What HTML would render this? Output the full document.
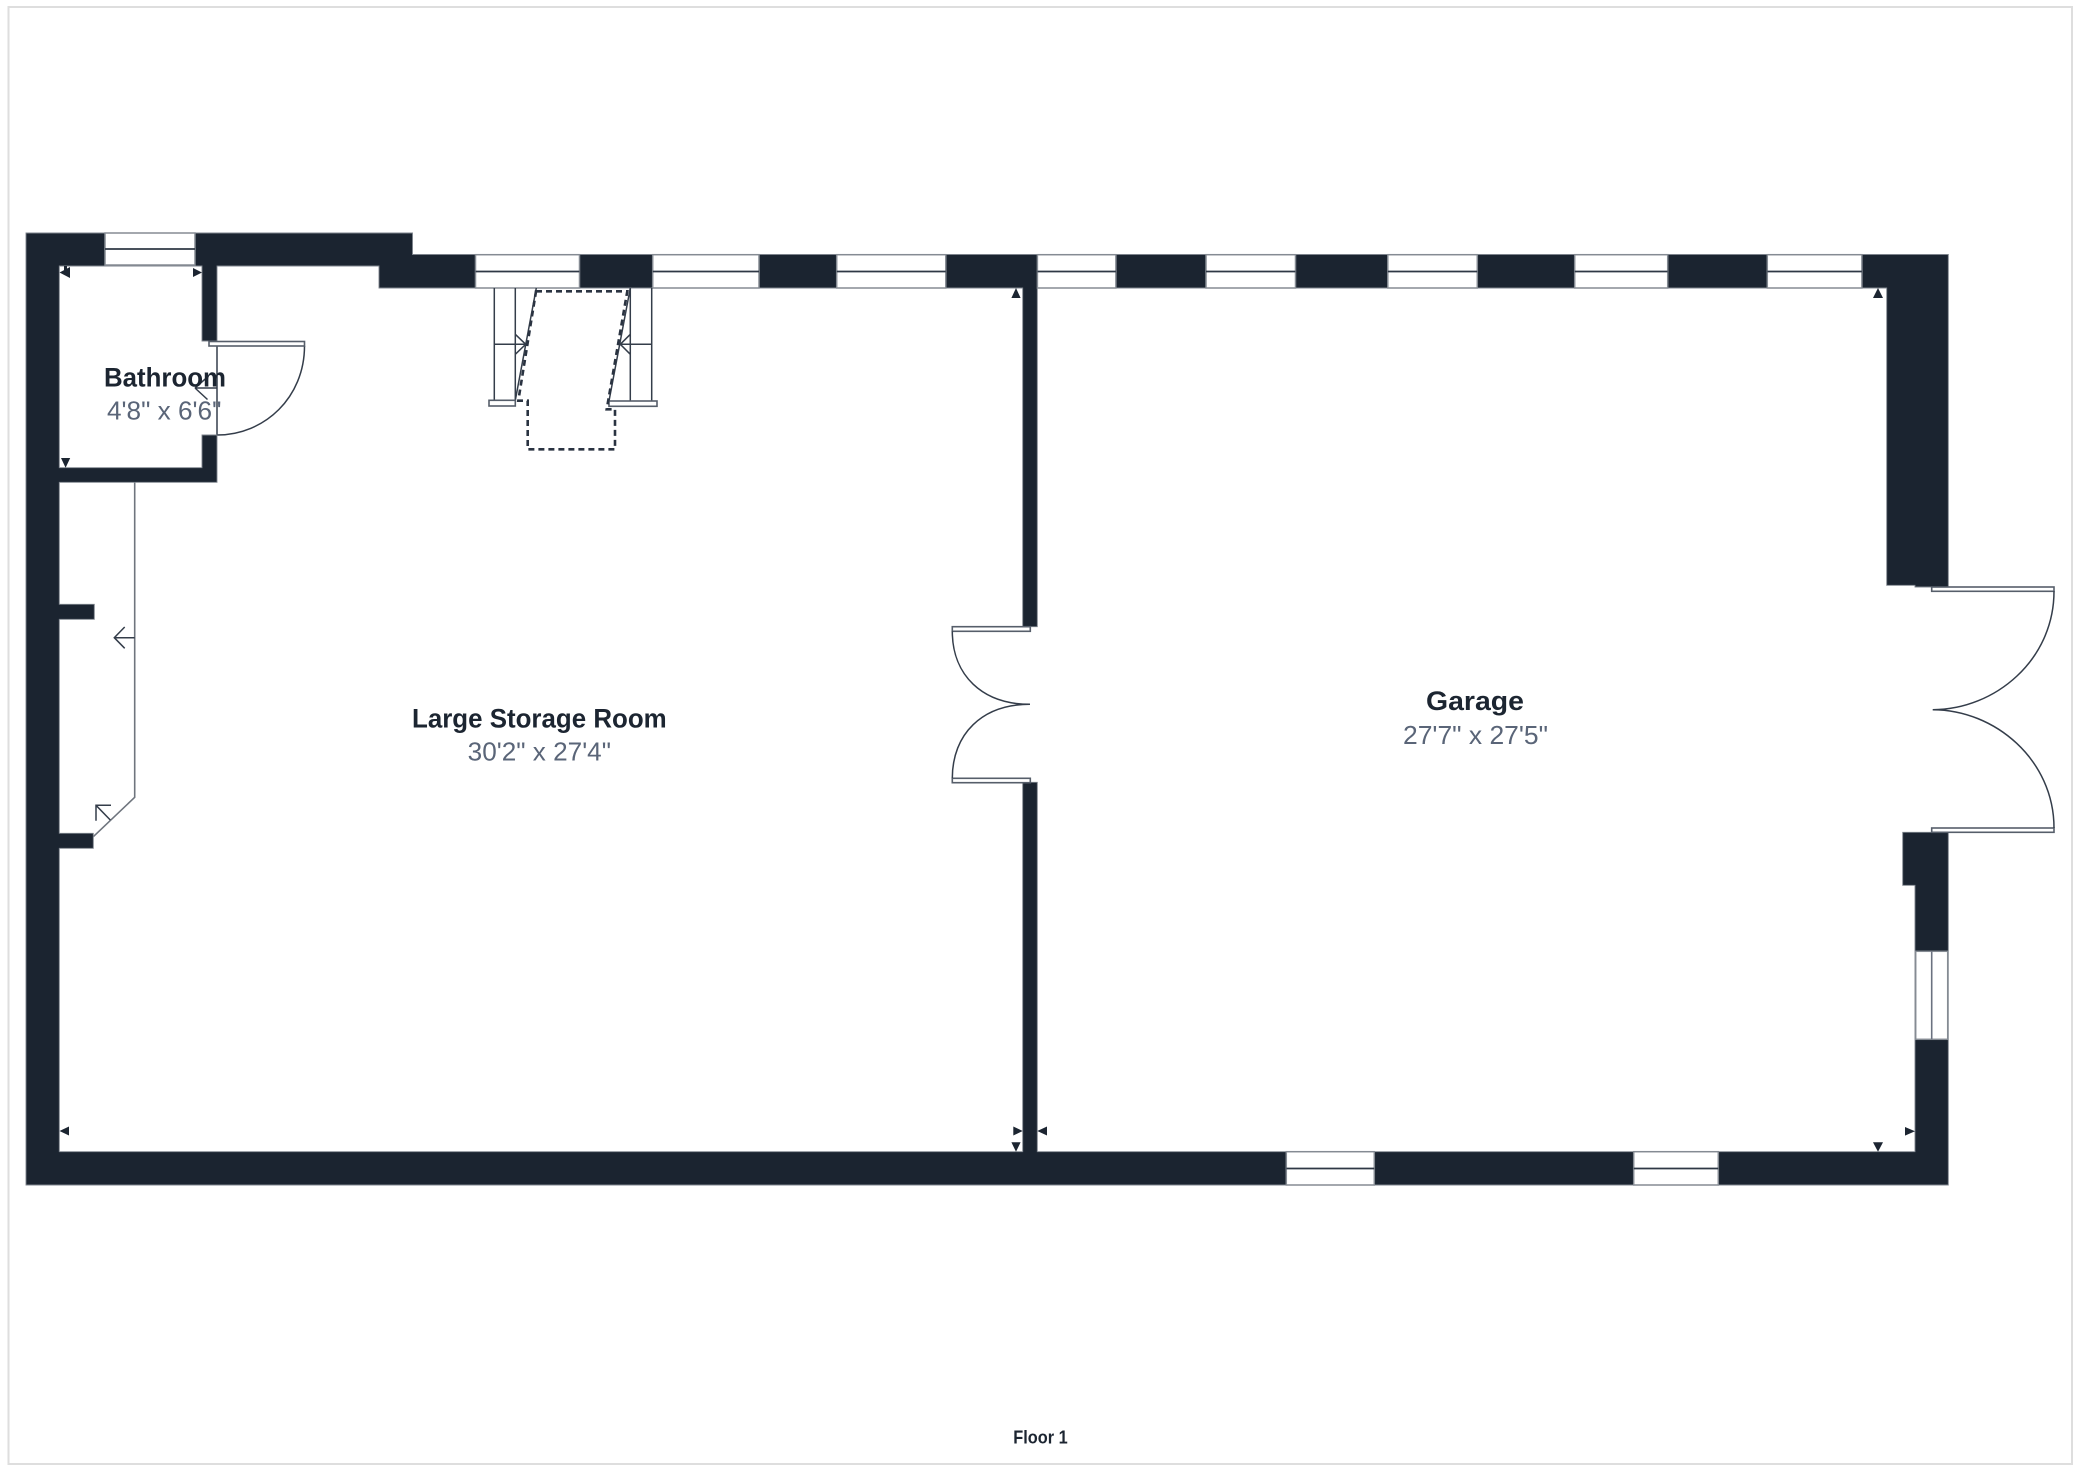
<!DOCTYPE html>
<html>
<head>
<meta charset="utf-8">
<title>Floor plan</title>
<style>
html,body{margin:0;padding:0;background:#fff;width:2080px;height:1471px;overflow:hidden}
svg{display:block}
text{font-family:"Liberation Sans",sans-serif}
.t{font-weight:bold;fill:#1c2531;font-size:27px}
.s{fill:#5a6578;font-size:26px}
.win{fill:#fff;stroke:#858b93;stroke-width:1.5}
.mid{stroke:#2f3845;stroke-width:1.7;fill:none}
.ln{stroke:#343d4a;stroke-width:1.5;fill:none}
.slab{fill:#fff;stroke:#565e6a;stroke-width:1.6}
.ar{fill:#1c2531;stroke:none}
</style>
</head>
<body>
<svg width="2080" height="1471" viewBox="0 0 2080 1471" xmlns="http://www.w3.org/2000/svg">
<rect x="0" y="0" width="2080" height="1471" fill="#fff"/>
<rect x="8.5" y="7" width="2063.5" height="1457" fill="#fff" stroke="#dedede" stroke-width="2"/>

<!-- door / stair linework beneath walls -->
<path class="ln" d="M217,341V435"/>
<path class="ln" d="M304.5,346C304.5,397 265,435 217,435"/>
<path class="ln" d="M217,388H196M195,388L207.5,399.5M195,388L207.5,377"/>
<path d="M134.7,482.3V797.3L93.3,836.7" fill="none" stroke="#6f757e" stroke-width="1.6"/>
<path class="ln" d="M134.7,637.7H114.5M124.7,627L114.3,637.7L124.7,648.3"/>
<path class="ln" d="M110.3,820L96,805.3M111,805.3H96V820.7"/>

<!-- walls -->
<path fill="#1b2430" stroke="#7d838c" stroke-width="0.9" d="M26,233H412.5V254.5H1948.3V587H1915V585.3H1886.7V288H1037.3V626.7H1022.7V288H379V266H217V341H202V266H59.3V467.7H202V435H217V482.3H59.3V604.3H94.3V619.3H59.3V833.3H93.3V848.3H59.3V1151.7H1022.7V782.3H1037.3V1151.7H1915V885.3H1902.7V832.3H1948.3V1185H26Z"/>

<!-- top windows -->
<rect class="win" x="105" y="233" width="90" height="32"/><path class="mid" d="M105,249H195"/>
<rect class="win" x="475.5" y="254.7" width="104" height="33.3"/>
<rect class="win" x="652.7" y="254.7" width="106.3" height="33.3"/>
<rect class="win" x="836.7" y="254.7" width="109.1" height="33.3"/>
<rect class="win" x="1037.4" y="254.7" width="78.5" height="33.3"/>
<rect class="win" x="1206" y="254.7" width="89.5" height="33.3"/>
<rect class="win" x="1387.8" y="254.7" width="89.5" height="33.3"/>
<rect class="win" x="1574.7" y="254.7" width="93" height="33.3"/>
<rect class="win" x="1767.3" y="254.7" width="94.6" height="33.3"/>
<path class="mid" d="M475.5,271.5H579.5M652.7,271.5H759M836.7,271.5H945.8M1037.4,271.5H1115.9M1206,271.5H1295.5M1387.8,271.5H1477.3M1574.7,271.5H1667.7M1767.3,271.5H1861.9"/>

<!-- bottom windows -->
<rect class="win" x="1286.3" y="1151.7" width="88" height="33.3"/>
<rect class="win" x="1633.7" y="1151.7" width="84.6" height="33.3"/>
<path class="mid" d="M1286.3,1168.5H1374.3M1633.7,1168.5H1718.3"/>

<!-- right window -->
<rect class="win" x="1915.7" y="951.3" width="32" height="88"/>
<path d="M1931.7,951.3V1039.3" fill="none" stroke="#6b7280" stroke-width="1.6"/>

<!-- stairs -->
<path class="ln" d="M494.3,288V400.3M515.3,288V400.3M494.3,344.3H525.7M515.3,334.3L525.7,344.3L515.3,354.3M536.3,288L515.3,400.3"/>
<rect class="slab" x="489" y="400.3" width="26.3" height="5.7"/>
<path class="ln" d="M630.3,288V401M651.7,288V401M651.7,344.3H620.3M630.3,334.3L620.3,344.3L630.3,354.3M630.3,288L609,401"/>
<rect class="slab" x="609" y="401" width="48" height="5.3"/>
<path d="M536,291.3H627.3L606.7,409.3H615V449.3H527.7V400.7H518.3Z" fill="none" stroke="#2a3341" stroke-width="2.6" stroke-dasharray="6 4"/>

<!-- doors -->
<rect class="slab" x="209" y="341.5" width="95.5" height="4.5"/>
<rect class="slab" x="952.3" y="626.7" width="78" height="4.6"/>
<rect class="slab" x="952.3" y="778.3" width="78" height="4.4"/>
<path class="ln" d="M952.3,631.3C952.3,675 982,704.3 1030,704.3C982,704.3 952.3,734 952.3,778.3"/>
<rect class="slab" x="1931.7" y="587" width="122.3" height="4.3"/>
<rect class="slab" x="1931.7" y="828" width="122.3" height="4.3"/>
<path class="ln" d="M2054,591.3C2054,660 1995,709.7 1932.7,709.7C1995,709.7 2054,760 2054,828"/>

<!-- dimension arrows -->
<g class="ar">
<path d="M59.5,272.5L70,267V278Z"/><rect x="64" y="266" width="3" height="4"/>
<path d="M202,272.5L193,268V277Z"/>
<path d="M65.6,467.7L61,458H70.2Z"/>
<path d="M59.5,1131L69,1126.5V1135.5Z"/>
<path d="M1022.7,1131L1013.3,1126.5V1135.5Z"/>
<path d="M1037.3,1131L1047,1126.5V1135.5Z"/>
<path d="M1016,1151.7L1011.4,1142.3H1020.6Z"/>
<path d="M1016,288L1011.4,298H1020.6Z"/>
<path d="M1878,288L1873,298H1883Z"/>
<path d="M1915,1131.3L1905,1127V1135.6Z"/>
<path d="M1878,1151.7L1873,1142.3H1883Z"/>
</g>

<!-- labels -->
<text class="t" x="104" y="386.7" textLength="122" lengthAdjust="spacingAndGlyphs">Bathroom</text>
<text class="s" x="107" y="419.3" textLength="114.4" lengthAdjust="spacingAndGlyphs">4'8" x 6'6"</text>
<text class="t" x="412" y="727.7" textLength="254.7" lengthAdjust="spacingAndGlyphs">Large Storage Room</text>
<text class="s" x="467.7" y="760.7" textLength="143.3" lengthAdjust="spacingAndGlyphs">30'2" x 27'4"</text>
<text class="t" x="1426" y="710" textLength="98" lengthAdjust="spacingAndGlyphs">Garage</text>
<text class="s" x="1403" y="744" textLength="145" lengthAdjust="spacingAndGlyphs">27'7" x 27'5"</text>
<text x="1013.3" y="1443.3" font-size="18" font-weight="bold" fill="#1c2531" textLength="54.4" lengthAdjust="spacingAndGlyphs">Floor 1</text>
</svg>
</body>
</html>
